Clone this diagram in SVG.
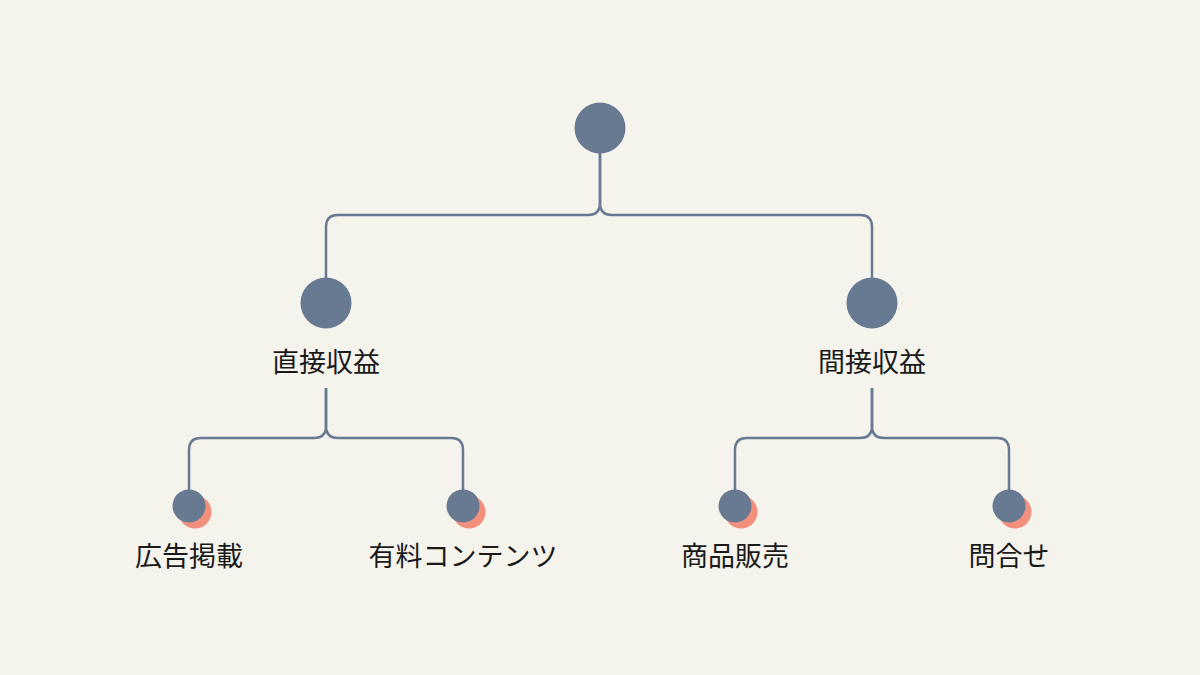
<svg xmlns="http://www.w3.org/2000/svg" width="1200" height="675" viewBox="0 0 1200 675">
<style>
.c{fill:#687992}
.s{fill:#f3907d}
.t{font-family:"Noto Sans CJK JP","Noto Sans",sans-serif;font-size:27px;fill:#1a1a1a;text-anchor:middle}
.l{fill:none;stroke:#687992;stroke-width:2.5}
</style>
<rect width="1200" height="675" fill="#f4f3ec"/>
<g id="connectors">
<path class="l" d="M600 153 V203 Q600 215 588 215 H338 Q326 215 326 227 V280"/>
<path class="l" d="M600 153 V203 Q600 215 612 215 H860 Q872 215 872 227 V280"/>
<path class="l" d="M326 388 V426 Q326 438 314 438 H201 Q189 438 189 450 V492"/>
<path class="l" d="M326 388 V426 Q326 438 338 438 H451 Q463 438 463 450 V492"/>
<path class="l" d="M872 388 V426 Q872 438 860 438 H747 Q735 438 735 450 V492"/>
<path class="l" d="M872 388 V426 Q872 438 884 438 H997 Q1009 438 1009 450 V492"/>
</g>
<g id="root"><circle class="c" cx="600" cy="128" r="25.5"/></g>
<g id="direct"><circle class="c" cx="326" cy="303" r="25.5"/><text class="t" x="326" y="372">直接収益</text></g>
<g id="indirect"><circle class="c" cx="872" cy="303" r="25.5"/><text class="t" x="872" y="372">間接収益</text></g>
<g id="ad"><circle class="s" cx="195" cy="512" r="16.5"/><circle class="c" cx="189" cy="506" r="16.5"/><text class="t" x="189" y="566">広告掲載</text></g>
<g id="paid"><circle class="s" cx="469" cy="512" r="16.5"/><circle class="c" cx="463" cy="506" r="16.5"/><text class="t" x="463" y="566">有料コンテンツ</text></g>
<g id="sales"><circle class="s" cx="741" cy="512" r="16.5"/><circle class="c" cx="735" cy="506" r="16.5"/><text class="t" x="735" y="566">商品販売</text></g>
<g id="inquiry"><circle class="s" cx="1015" cy="512" r="16.5"/><circle class="c" cx="1009" cy="506" r="16.5"/><text class="t" x="1009" y="566">問合せ</text></g>
</svg>
